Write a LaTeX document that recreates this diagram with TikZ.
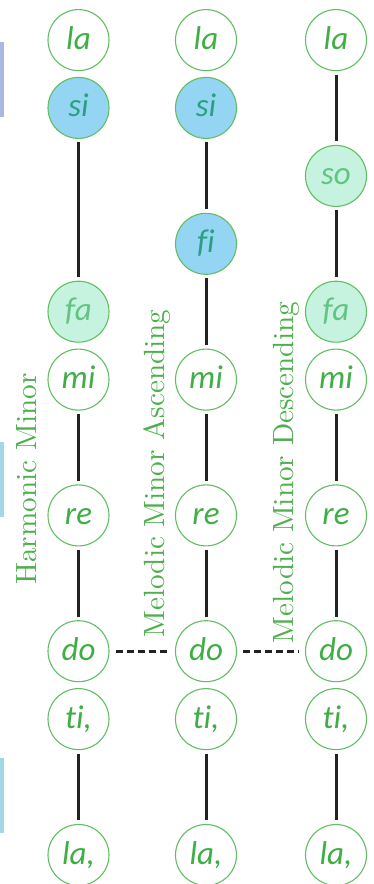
\documentclass[tikz,border=0pt]{standalone}
\usepackage{fontspec}
\newfontfamily\notefont{Carlito}[Ligatures=NoCommon]
\newfontfamily\labfont{lmroman10-regular.otf}
\definecolor{nodegreen}{HTML}{62BE62}
\definecolor{notegreen}{HTML}{3FAE45}
\definecolor{labgreen}{HTML}{4DB04D}
\definecolor{bluefill}{HTML}{93D5F3}
\definecolor{blueText}{HTML}{2AA081}
\definecolor{mintfill}{HTML}{C6F3DF}
\definecolor{mintText}{HTML}{62C483}
\definecolor{linegray}{HTML}{222222}
\definecolor{barblue}{HTML}{A9B8E0}
\definecolor{barcyan}{HTML}{A0D9E3}
\begin{document}
\begin{tikzpicture}[x=1pt,y=-1pt,
  note/.style={circle, draw=nodegreen, line width=1.1pt, minimum size=61pt,
    inner sep=0pt, fill=white, text=notegreen, text height=22pt, text depth=4pt,
    font=\notefont\itshape\fontsize{33}{33}\selectfont},
  bluenote/.style={note, fill=bluefill, text=blueText},
  mintnote/.style={note, fill=mintfill, text=mintText},
  conn/.style={line width=3pt, draw=linegray, shorten >=3.5pt, shorten <=3.5pt},
  dconn/.style={line width=3pt, draw=linegray, dash pattern=on 7pt off 4pt,
    shorten >=6pt, shorten <=6pt},
  lab/.style={rotate=90, inner sep=0pt, text=labgreen,
    font=\labfont\fontsize{29.2}{29.2}\selectfont}]
\useasboundingbox (0,0) rectangle (373,884);
% left bars
\fill[barblue] (0,41.7) rectangle (4,116.7);
\fill[barcyan] (0,441.7) rectangle (4,516.7);
\fill[barcyan] (0,758) rectangle (4,833);
% column 1 : harmonic minor
\node[note]     (a1)  at (78.5,40.1)  {la};
\node[bluenote] (a2)  at (78.5,107.9) {si};
\node[mintnote] (a3)  at (78.5,311.7) {fa};
\node[note]     (a4)  at (78.5,379.6) {mi};
\node[note]     (a5)  at (78.5,515.4) {re};
\node[note]     (a6)  at (78.5,651.2) {do};
\node[note]     (a7)  at (78.5,719.1) {ti,};
\node[note]     (a8)  at (78.5,855)   {la,};
% column 2 : melodic minor ascending
\node[note]     (b1)  at (206,40.1)  {la};
\node[bluenote] (b2)  at (206,107.9) {si};
\node[bluenote] (b3)  at (206,243.8) {fi};
\node[note]     (b4)  at (206,379.6) {mi};
\node[note]     (b5)  at (206,515.4) {re};
\node[note]     (b6)  at (206,651.2) {do};
\node[note]     (b7)  at (206,719.1) {ti,};
\node[note]     (b8)  at (206,855)   {la,};
% column 3 : melodic minor descending
\node[note]     (c1)  at (336,40.1)  {la};
\node[mintnote] (c2)  at (336,175.9) {so};
\node[mintnote] (c3)  at (336,311.7) {fa};
\node[note]     (c4)  at (336,379.6) {mi};
\node[note]     (c5)  at (336,515.4) {re};
\node[note]     (c6)  at (336,651.2) {do};
\node[note]     (c7)  at (336,719.1) {ti,};
\node[note]     (c8)  at (336,855)   {la,};
% connectors
\draw[conn] (a2) -- (a3);
\draw[conn] (a4) -- (a5);
\draw[conn] (a5) -- (a6);
\draw[conn] (a7) -- (a8);
\draw[conn] (b2) -- (b3);
\draw[conn] (b3) -- (b4);
\draw[conn] (b4) -- (b5);
\draw[conn] (b5) -- (b6);
\draw[conn] (b7) -- (b8);
\draw[conn] (c1) -- (c2);
\draw[conn] (c2) -- (c3);
\draw[conn] (c4) -- (c5);
\draw[conn] (c5) -- (c6);
\draw[conn] (c7) -- (c8);
\draw[dconn] (a6) -- (b6);
\draw[dconn] (b6) -- (c6);
% labels
\node[lab] (l1) at (27,479) {Harmonic Minor};
\node[lab] (l2) at (157.5,473.5) {Melodic Minor Ascending};
\node[lab] (l3) at (286.5,472.5) {Melodic Minor Descending};
\end{tikzpicture}
\end{document}
